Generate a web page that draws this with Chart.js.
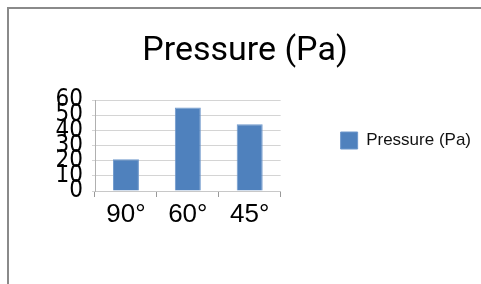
<!DOCTYPE html>
<html>
<head>
<meta charset="utf-8">
<script src="https://cdn.jsdelivr.net/npm/chart.js"></script>
<style>
  html, body { margin: 0; padding: 0; background: #fff; }
  #wrap { position: relative; width: 481px; height: 284px; overflow: hidden; }
  #frame { position: absolute; left: 7px; top: 7px; width: 500px; height: 300px;
           border-left: 2px solid #8a8a8a; border-top: 2px solid #8a8a8a; }
  canvas { position: absolute; left: 0; top: 0; }
</style>
</head>
<body>
<div id="wrap">
  <div id="frame"></div>
  <canvas id="chart" width="481" height="284"></canvas>
</div>
<script>
const categories = ['90°', '60°', '45°'];
const pressure   = [21, 55, 44];
const yTicks     = [0, 10, 20, 30, 40, 50, 60];
const seriesName = 'Pressure (Pa)';

new Chart(document.getElementById('chart'), {
    type: 'bar',
    data: {
        labels: categories,
        datasets: [{
            label: seriesName,
            data: pressure,
            backgroundColor: '#4f81bd',
            borderColor: '#6f98cc',
            borderWidth: 1,
            barPercentage: 0.42,
            categoryPercentage: 1,
        }],
    },
    options: {
        responsive: false,
        animation: false,
        layout: { padding: { left: 9, right: 0, top: 0, bottom: 3 } },
        plugins: {
            tooltip: { enabled: false },
            title: {
                display: true,
                text: seriesName,
                color: '#000',
                font: { family: 'Roboto', size: 34, weight: 'normal' },
                padding: { top: 30.6, bottom: 28.6 },
            },
            legend: {
                position: 'right',
                fullSize: true,
                maxWidth: 260,
                labels: {
                    boxWidth: 17,
                    boxHeight: 17,
                    padding: 60,
                    color: '#111',
                    font: { family: "'Liberation Sans', Arial, sans-serif", size: 17 },
                },
            },
        },
        scales: {
            x: {
                grid: { offset: true, drawOnChartArea: false, tickLength: 6, color: '#999' },
                border: { color: '#c8c8c8' },
                ticks: {
                    color: '#000',
                    padding: 2,
                    autoSkip: false,
                    maxRotation: 0,
                    font: { family: "'Liberation Sans', Arial, sans-serif", size: 26 },
                },
                afterFit(scale) { scale.height = 90; },
            },
            y: {
                min: 0,
                max: 60,
                afterBuildTicks(scale) { scale.ticks = yTicks.map(v => ({ value: v })); },
                grid: { color: '#d4d4d4', tickLength: 3 },
                border: { color: '#b0b0b0' },
                ticks: {
                    color: '#000',
                    padding: 9,
                    autoSkip: false,
                    font: { family: "'DejaVu Sans Condensed', 'Liberation Sans', sans-serif", size: 24 },
                },
                afterFit(scale) { scale.width = 86; },
            },
        },
    },
});
</script>
</body>
</html>
